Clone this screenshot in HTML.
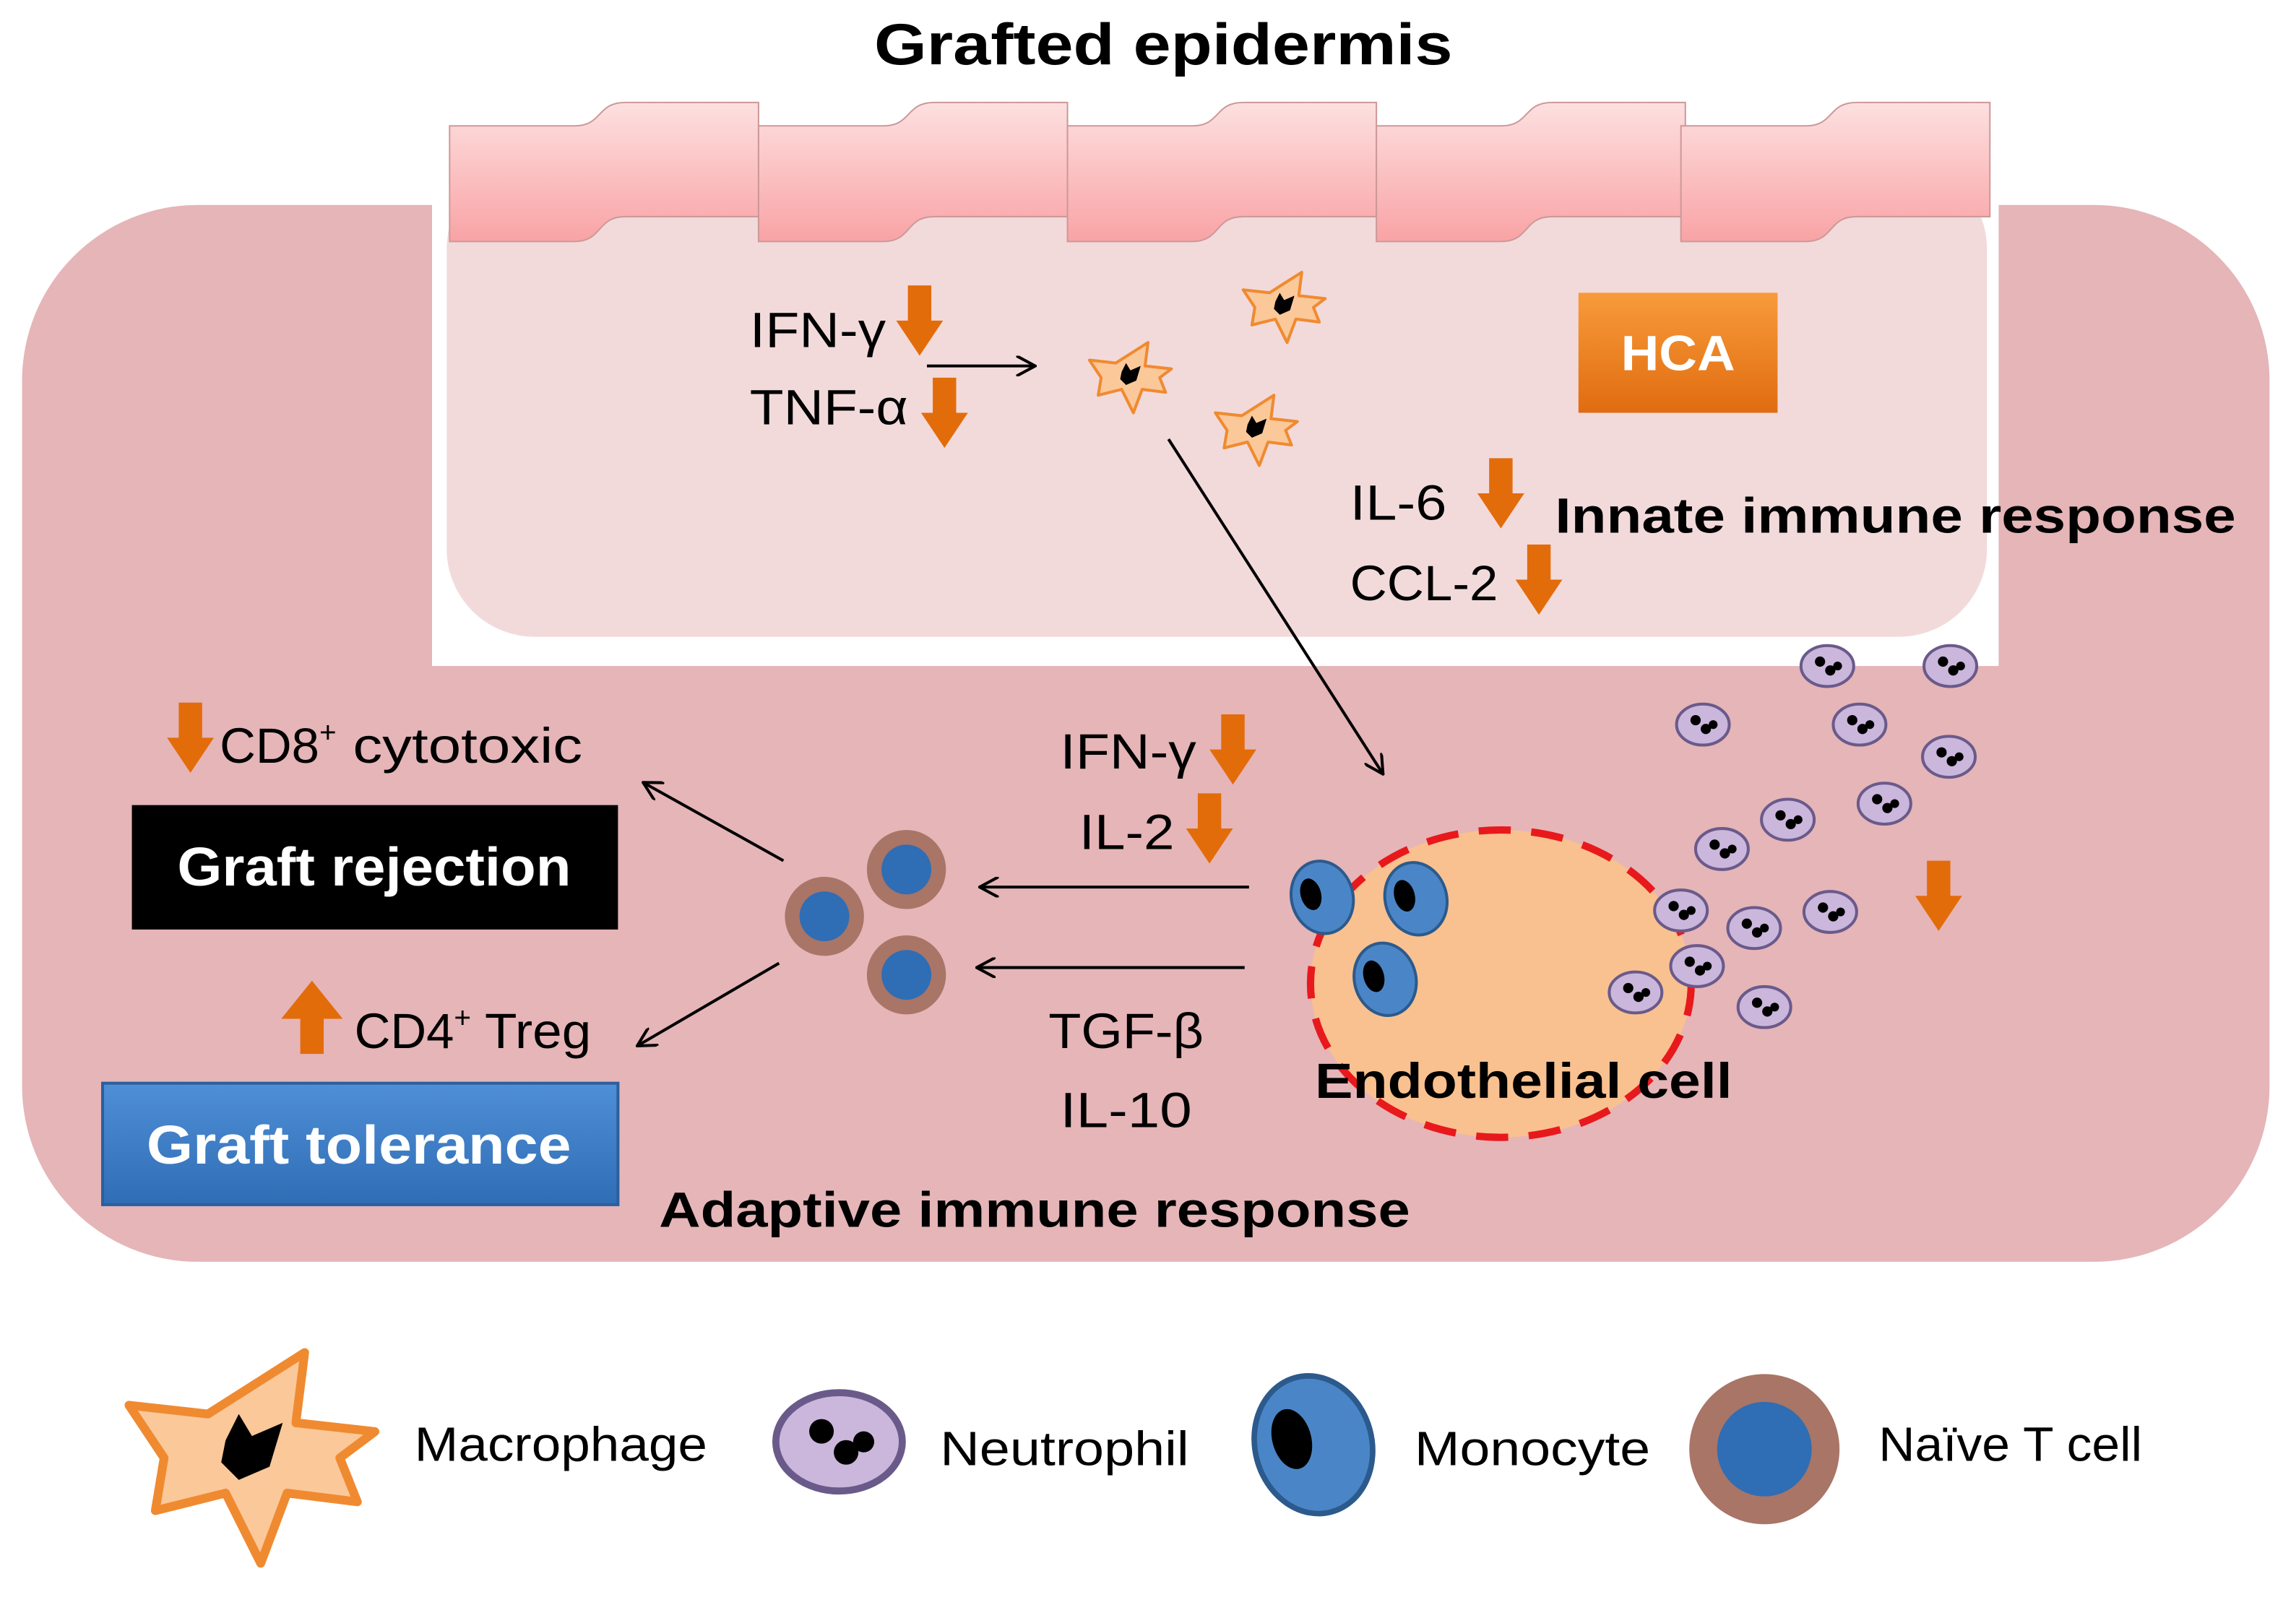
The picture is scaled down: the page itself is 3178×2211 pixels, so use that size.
<!DOCTYPE html>
<html><head><meta charset="utf-8"><style>
html,body{margin:0;padding:0;background:#fff;}
svg{display:block;}
text{font-family:"Liberation Sans",sans-serif;}
</style></head><body>
<svg width="3178" height="2211" viewBox="0 0 1568 1091" xmlns="http://www.w3.org/2000/svg">
<defs>
<linearGradient id="ep" x1="0" y1="0" x2="0" y2="1"><stop offset="0" stop-color="#fde0e0"/><stop offset="1" stop-color="#f9a3a5"/></linearGradient>
<linearGradient id="hca" x1="0" y1="0" x2="0" y2="1"><stop offset="0" stop-color="#f89b3a"/><stop offset="1" stop-color="#e06c10"/></linearGradient>
<linearGradient id="blu" x1="0" y1="0" x2="0" y2="1"><stop offset="0" stop-color="#4f8fd6"/><stop offset="1" stop-color="#2f6db5"/></linearGradient>
<marker id="ah" markerWidth="14" markerHeight="14" refX="12" refY="7" orient="auto" markerUnits="userSpaceOnUse"><path d="M0,0 L13,7 L0,14" fill="none" stroke="#000" stroke-width="2"/></marker>
<g id="oa"><path d="M-8,0 H8 V24 H16 L0,48 L-16,24 H-8Z" fill="#e36c0a"/></g>
<g id="mac"><path d="M-28,-10 L-10,-8 L12,-22 L10,-6 L28,-4 L20,2 L24,12 L8,10 L2,26 L-6,10 L-22,14 L-20,2 Z" fill="#fbc89a" stroke="#f08a30" stroke-width="2" stroke-linejoin="round"/><path d="M-6,-2 L-3,-8 L0,-3 L7,-6 L4,4 L-3,7 L-7,3Z" fill="#000"/></g>
<g id="neu"><ellipse cx="0" cy="0" rx="18" ry="14" fill="#cbb6dc" stroke="#6a5a8a" stroke-width="2"/><circle cx="-5" cy="-3" r="3.5" fill="#000"/><circle cx="2" cy="3" r="3.5" fill="#000"/><circle cx="7" cy="0" r="3" fill="#000"/></g>
<g id="mon"><ellipse cx="0" cy="0" rx="21" ry="25" fill="#4a86c7" stroke="#2c5a8c" stroke-width="2" transform="rotate(-15)"/><ellipse cx="-7" cy="-4" rx="7" ry="11" fill="#000" transform="rotate(-15)"/></g>
<g id="tc"><circle r="27" fill="#a97566"/><circle r="17" fill="#2f6db5"/></g>
<path id="cell" d="M0,86 H85 C105,86 100,70 120,70 H211 V148 H120 C100,148 105,165 85,165 H0Z" fill="url(#ep)" stroke="#c99" stroke-width="1"/>
</defs>
<rect width="1568" height="1091" fill="#fff"/>
<text x="597" y="44" font-size="40" font-weight="bold" textLength="395" lengthAdjust="spacingAndGlyphs">Grafted epidermis</text>
<rect x="15" y="140" width="1535" height="722" rx="120" fill="#e5b5b8"/>
<rect x="295" y="75" width="1070" height="380" fill="#fff"/>
<rect x="305" y="110" width="1052" height="325" rx="60" fill="#f2dadb"/>
<use href="#cell" x="307"/><use href="#cell" x="518"/><use href="#cell" x="729"/><use href="#cell" x="940"/><use href="#cell" x="1148"/>
<rect x="1078" y="200" width="136" height="82" fill="url(#hca)"/>
<text x="1107" y="253" font-size="34" font-weight="bold" fill="#fff" textLength="78" lengthAdjust="spacingAndGlyphs">HCA</text>
<g font-size="34" lengthAdjust="spacingAndGlyphs">
<text x="512" y="237" textLength="93" lengthAdjust="spacingAndGlyphs">IFN-γ</text><text x="512" y="290" textLength="108" lengthAdjust="spacingAndGlyphs">TNF-α</text>
<text x="922" y="355" textLength="66" lengthAdjust="spacingAndGlyphs">IL-6</text><text x="922" y="410" textLength="101" lengthAdjust="spacingAndGlyphs">CCL-2</text>
<text x="724" y="525" textLength="93" lengthAdjust="spacingAndGlyphs">IFN-γ</text><text x="737" y="580" textLength="65" lengthAdjust="spacingAndGlyphs">IL-2</text>
<text x="716" y="716" textLength="106" lengthAdjust="spacingAndGlyphs">TGF-β</text><text x="724" y="770" textLength="90" lengthAdjust="spacingAndGlyphs">IL-10</text>
<text x="150" y="521">CD8<tspan font-size="20" dy="-14">+</tspan><tspan dy="14" textLength="168" lengthAdjust="spacingAndGlyphs"> cytotoxic</tspan></text>
<text x="242" y="716">CD4<tspan font-size="20" dy="-14">+</tspan><tspan dy="14" textLength="82" lengthAdjust="spacingAndGlyphs"> Treg</tspan></text>
</g>
<text x="1062" y="364" font-size="34" font-weight="bold" textLength="465" lengthAdjust="spacingAndGlyphs">Innate immune  response</text>
<text x="450" y="838" font-size="34" font-weight="bold" textLength="513" lengthAdjust="spacingAndGlyphs">Adaptive immune  response</text>
<use href="#oa" x="628" y="195"/><use href="#oa" x="645" y="258"/>
<use href="#oa" x="1025" y="313"/><use href="#oa" x="1051" y="372"/>
<use href="#oa" x="842" y="488"/><use href="#oa" x="826" y="542"/>
<use href="#oa" x="130" y="480"/><use href="#oa" x="1324" y="588"/>
<path d="M221,720 H205 V696 H192 L213,670 L234,696 H221Z" fill="#e36c0a"/>
<line x1="633" y1="250" x2="706" y2="250" stroke="#000" stroke-width="2" marker-end="url(#ah)"/>
<line x1="798" y1="300" x2="944" y2="528" stroke="#000" stroke-width="2" marker-end="url(#ah)"/>
<line x1="853" y1="606" x2="670" y2="606" stroke="#000" stroke-width="2" marker-end="url(#ah)"/>
<line x1="850" y1="661" x2="668" y2="661" stroke="#000" stroke-width="2" marker-end="url(#ah)"/>
<line x1="535" y1="588" x2="440" y2="535" stroke="#000" stroke-width="2" marker-end="url(#ah)"/>
<line x1="532" y1="658" x2="436" y2="714" stroke="#000" stroke-width="2" marker-end="url(#ah)"/>
<use href="#mac" x="772" y="256"/><use href="#mac" x="877" y="208"/><use href="#mac" x="858" y="292"/>
<ellipse cx="1025" cy="672" rx="130" ry="105" fill="#f9c18f" stroke="#e8191c" stroke-width="5" stroke-dasharray="22,14"/>
<use href="#mon" x="903" y="613"/><use href="#mon" x="967" y="614"/><use href="#mon" x="946" y="669"/>
<text x="898" y="750" font-size="34" font-weight="bold" textLength="285" lengthAdjust="spacingAndGlyphs">Endothelial cell</text>
<use href="#neu" x="1248" y="455"/><use href="#neu" x="1332" y="455"/><use href="#neu" x="1163" y="495"/><use href="#neu" x="1270" y="495"/><use href="#neu" x="1331" y="517"/><use href="#neu" x="1221" y="560"/><use href="#neu" x="1287" y="549"/><use href="#neu" x="1176" y="580"/><use href="#neu" x="1148" y="622"/><use href="#neu" x="1198" y="634"/><use href="#neu" x="1250" y="623"/><use href="#neu" x="1159" y="660"/><use href="#neu" x="1117" y="678"/><use href="#neu" x="1205" y="688"/>
<use href="#tc" x="563" y="626"/><use href="#tc" x="619" y="594"/><use href="#tc" x="619" y="666"/>
<rect x="90" y="550" width="332" height="85" fill="#000"/>
<text x="121" y="605" font-size="37" font-weight="bold" fill="#fff" textLength="269" lengthAdjust="spacingAndGlyphs">Graft rejection</text>
<rect x="70" y="740" width="352" height="83" fill="url(#blu)" stroke="#2b5f9e" stroke-width="2"/>
<text x="100" y="795" font-size="37" font-weight="bold" fill="#fff" textLength="290" lengthAdjust="spacingAndGlyphs">Graft  tolerance</text>
<g transform="translate(172,990) scale(3)"><use href="#mac"/></g>
<text x="283" y="998" font-size="33" textLength="200" lengthAdjust="spacingAndGlyphs">Macrophage</text>
<g transform="translate(573,985) scale(2.4)"><use href="#neu"/></g>
<text x="642" y="1001" font-size="33" textLength="170" lengthAdjust="spacingAndGlyphs">Neutrophil</text>
<g transform="translate(897,987) scale(1.9)"><use href="#mon"/></g>
<text x="966" y="1001" font-size="33" textLength="161" lengthAdjust="spacingAndGlyphs">Monocyte</text>
<g transform="translate(1205,990) scale(1.9)"><use href="#tc"/></g>
<text x="1283" y="998" font-size="33" textLength="180" lengthAdjust="spacingAndGlyphs">Naïve T cell</text>
</svg>
</body></html>
